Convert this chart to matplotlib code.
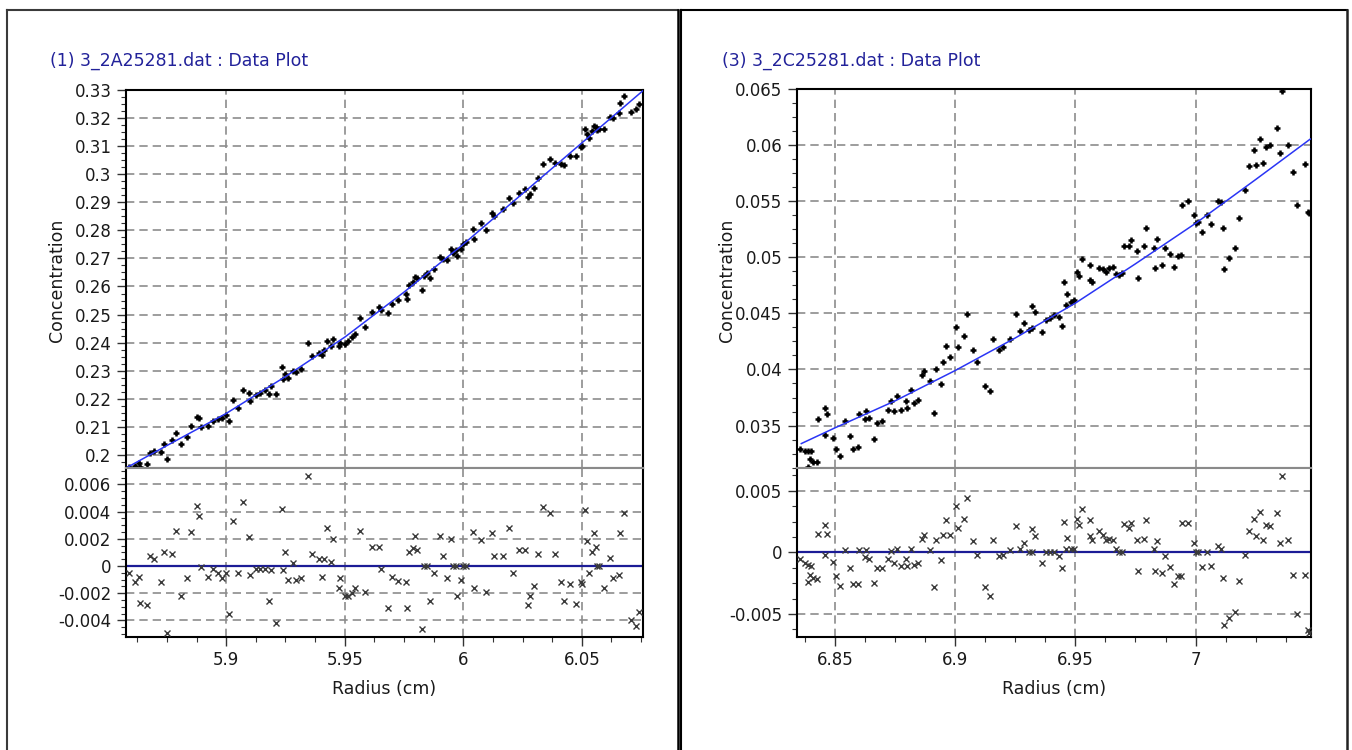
import matplotlib
matplotlib.use('Agg')
import matplotlib.pyplot as plt
from matplotlib.lines import Line2D
from matplotlib.ticker import FixedLocator, AutoMinorLocator, FuncFormatter

plt.rcParams['font.family'] = ['DejaVu Sans']

# ---------------- data ----------------
left_title = "(1) 3_2A25281.dat : Data Plot"
right_title = "(3) 3_2C25281.dat : Data Plot"
y_label = "Concentration"
x_label = "Radius (cm)"

left_radius = [5.8588, 5.8614, 5.8631, 5.8637, 5.8664, 5.8679, 5.8696, 5.8726, 5.8739, 5.8751,
    5.8771, 5.8789, 5.8809, 5.8834, 5.8850, 5.8875, 5.8884, 5.8892, 5.8922, 5.8945,
    5.8967, 5.8983, 5.9000, 5.9013, 5.9030, 5.9050, 5.9072, 5.9095, 5.9100, 5.9125,
    5.9141, 5.9163, 5.9180, 5.9188, 5.9211, 5.9236, 5.9241, 5.9249, 5.9259, 5.9283,
    5.9296, 5.9316, 5.9344, 5.9362, 5.9391, 5.9402, 5.9412, 5.9424, 5.9441, 5.9452,
    5.9474, 5.9479, 5.9499, 5.9515, 5.9532, 5.9544, 5.9565, 5.9585, 5.9615, 5.9644,
    5.9652, 5.9682, 5.9698, 5.9723, 5.9757, 5.9762, 5.9770, 5.9786, 5.9795, 5.9806,
    5.9826, 5.9834, 5.9848, 5.9860, 5.9876, 5.9901, 5.9915, 5.9931, 5.9948, 5.9956,
    5.9968, 5.9973, 5.9990, 6.0000, 6.0013, 6.0043, 6.0047, 6.0076, 6.0094, 6.0122,
    6.0131, 6.0167, 6.0192, 6.0209, 6.0235, 6.0259, 6.0272, 6.0280, 6.0300, 6.0317,
    6.0338, 6.0367, 6.0388, 6.0413, 6.0427, 6.0452, 6.0474, 6.0497, 6.0502, 6.0513,
    6.0521, 6.0530, 6.0543, 6.0551, 6.0558, 6.0563, 6.0571, 6.0593, 6.0621, 6.0633,
    6.0655, 6.0663, 6.0676, 6.0708, 6.0730, 6.0741]

left_conc = [0.1958, 0.1963, 0.1974, 0.1958, 0.1968, 0.2010, 0.2016, 0.2012, 0.2040, 0.1986,
    0.2054, 0.2079, 0.2040, 0.2065, 0.2106, 0.2136, 0.2133, 0.2099, 0.2105, 0.2122,
    0.2129, 0.2132, 0.2144, 0.2121, 0.2198, 0.2170, 0.2234, 0.2220, 0.2194, 0.2213,
    0.2221, 0.2232, 0.2217, 0.2245, 0.2218, 0.2315, 0.2272, 0.2289, 0.2275, 0.2300,
    0.2296, 0.2308, 0.2399, 0.2352, 0.2364, 0.2357, 0.2376, 0.2405, 0.2390, 0.2413,
    0.2389, 0.2399, 0.2397, 0.2408, 0.2420, 0.2432, 0.2488, 0.2455, 0.2508, 0.2526,
    0.2515, 0.2505, 0.2539, 0.2552, 0.2573, 0.2557, 0.2604, 0.2617, 0.2633, 0.2630,
    0.2586, 0.2637, 0.2647, 0.2629, 0.2661, 0.2705, 0.2699, 0.2694, 0.2735, 0.2720,
    0.2728, 0.2710, 0.2733, 0.2750, 0.2759, 0.2806, 0.2768, 0.2824, 0.2799, 0.2862,
    0.2851, 0.2877, 0.2916, 0.2895, 0.2931, 0.2948, 0.2917, 0.2930, 0.2951, 0.2987,
    0.3036, 0.3053, 0.3038, 0.3035, 0.3031, 0.3062, 0.3063, 0.3096, 0.3098, 0.3160,
    0.3143, 0.3127, 0.3151, 0.3171, 0.3166, 0.3155, 0.3161, 0.3161, 0.3203, 0.3197,
    0.3215, 0.3251, 0.3276, 0.3220, 0.3232, 0.3250]

left_resid = [-0.0005, -0.0012, -0.0008, -0.0027, -0.0029, 0.0007, 0.0005, -0.0012, 0.0010, -0.0049,
    0.0009, 0.0026, -0.0022, -0.0009, 0.0025, 0.0044, 0.0037, -0.0001, -0.0008, -0.0002,
    -0.0005, -0.0009, -0.0005, -0.0035, 0.0033, -0.0005, 0.0047, 0.0021, -0.0007, -0.0002,
    -0.0002, -0.0002, -0.0026, -0.0003, -0.0042, 0.0042, -0.0003, 0.0010, -0.0010, 0.0002,
    -0.0010, -0.0009, 0.0066, 0.0009, 0.0005, -0.0008, 0.0005, 0.0028, 0.0003, 0.0020,
    -0.0016, -0.0009, -0.0022, -0.0022, -0.0020, -0.0016, 0.0026, -0.0019, 0.0014, 0.0014,
    -0.0002, -0.0031, -0.0008, -0.0011, -0.0012, -0.0031, 0.0010, 0.0013, 0.0022, 0.0012,
    -0.0046, 0.0000, 0.0000, -0.0026, -0.0005, 0.0022, 0.0007, -0.0009, 0.0020, 0.0000,
    0.0000, -0.0022, -0.0010, 0.0000, 0.0000, 0.0025, -0.0016, 0.0019, -0.0019, 0.0024,
    0.0007, 0.0007, 0.0028, -0.0005, 0.0012, 0.0012, -0.0029, -0.0022, -0.0015, 0.0009,
    0.0043, 0.0039, 0.0009, -0.0012, -0.0026, -0.0013, -0.0028, -0.0012, -0.0013, 0.0041,
    0.0018, -0.0005, 0.0010, 0.0024, 0.0014, 0.0000, 0.0000, -0.0016, 0.0006, -0.0009,
    -0.0007, 0.0024, 0.0039, -0.0040, -0.0044, -0.0034]

left_fit_radius = [5.8575, 5.875, 5.9, 5.925, 5.95, 5.975, 6.0, 6.025, 6.05, 6.0757]
left_fit_conc = [0.1954, 0.2035, 0.2149, 0.2280, 0.2420, 0.2580, 0.2750, 0.2930, 0.3110, 0.3295]

right_radius = [6.8355, 6.8376, 6.8389, 6.8401, 6.8389, 6.8398, 6.8410, 6.8424, 6.8431, 6.8459,
    6.8459, 6.8467, 6.8493, 6.8505, 6.8522, 6.8540, 6.8562, 6.8574, 6.8597, 6.8600,
    6.8623, 6.8631, 6.8643, 6.8661, 6.8673, 6.8695, 6.8721, 6.8735, 6.8747, 6.8759,
    6.8773, 6.8794, 6.8799, 6.8816, 6.8828, 6.8846, 6.8863, 6.8872, 6.8894, 6.8911,
    6.8920, 6.8942, 6.8949, 6.8963, 6.8980, 6.9005, 6.9010, 6.9036, 6.9050, 6.9074,
    6.9089, 6.9122, 6.9143, 6.9158, 6.9183, 6.9200, 6.9226, 6.9252, 6.9271, 6.9288,
    6.9309, 6.9321, 6.9330, 6.9318, 6.9361, 6.9378, 6.9395, 6.9409, 6.9430, 6.9444,
    6.9452, 6.9464, 6.9461, 6.9482, 6.9496, 6.9508, 6.9516, 6.9528, 6.9559, 6.9562,
    6.9568, 6.9599, 6.9616, 6.9628, 6.9641, 6.9658, 6.9667, 6.9680, 6.9693, 6.9701,
    6.9724, 6.9732, 6.9755, 6.9762, 6.9784, 6.9793, 6.9827, 6.9831, 6.9841, 6.9862,
    6.9871, 6.9893, 6.9909, 6.9928, 6.9940, 6.9945, 6.9969, 6.9995, 7.0000, 7.0009,
    7.0026, 7.0048, 7.0066, 7.0095, 7.0104, 7.0112, 7.0118, 7.0138, 7.0164, 7.0181,
    7.0204, 7.0221, 7.0242, 7.0251, 7.0268, 7.0280, 7.0293, 7.0311, 7.0337, 7.0351,
    7.0360, 7.0384, 7.0406, 7.0423, 7.0455, 7.0466, 7.0473]

right_conc = [0.0329, 0.0327, 0.0327, 0.0327, 0.0313, 0.0320, 0.0318, 0.0318, 0.0356, 0.0366,
    0.0342, 0.0360, 0.0339, 0.0329, 0.0323, 0.0354, 0.0341, 0.0329, 0.0331, 0.0360,
    0.0356, 0.0363, 0.0357, 0.0338, 0.0352, 0.0354, 0.0364, 0.0372, 0.0363, 0.0376,
    0.0364, 0.0372, 0.0366, 0.0382, 0.0370, 0.0373, 0.0395, 0.0399, 0.0390, 0.0361,
    0.0400, 0.0387, 0.0407, 0.0421, 0.0411, 0.0438, 0.0420, 0.0430, 0.0449, 0.0417,
    0.0407, 0.0385, 0.0381, 0.0427, 0.0417, 0.0420, 0.0427, 0.0449, 0.0434, 0.0441,
    0.0435, 0.0456, 0.0451, 0.0437, 0.0433, 0.0444, 0.0446, 0.0448, 0.0447, 0.0439,
    0.0478, 0.0467, 0.0457, 0.0460, 0.0462, 0.0487, 0.0483, 0.0498, 0.0493, 0.0480,
    0.0478, 0.0490, 0.0489, 0.0487, 0.0490, 0.0491, 0.0485, 0.0484, 0.0486, 0.0510,
    0.0510, 0.0515, 0.0505, 0.0481, 0.0510, 0.0526, 0.0508, 0.0490, 0.0516, 0.0493,
    0.0508, 0.0503, 0.0491, 0.0501, 0.0502, 0.0546, 0.0550, 0.0537, 0.0530, 0.0531,
    0.0522, 0.0537, 0.0529, 0.0550, 0.0549, 0.0526, 0.0489, 0.0499, 0.0508, 0.0535,
    0.0560, 0.0581, 0.0595, 0.0582, 0.0605, 0.0584, 0.0598, 0.0600, 0.0615, 0.0593,
    0.0648, 0.0600, 0.0576, 0.0546, 0.0583, 0.0540, 0.0539]

right_resid = [-0.0005, -0.0009, -0.0010, -0.0011, -0.0024, -0.0018, -0.0021, -0.0022, 0.0015, 0.0022,
    -0.0002, 0.0015, -0.0008, -0.0019, -0.0027, 0.0002, -0.0013, -0.0026, -0.0026, 0.0002,
    -0.0004, 0.0002, -0.0005, -0.0025, -0.0013, -0.0013, -0.0005, 0.0001, -0.0009, 0.0003,
    -0.0011, -0.0005, -0.0011, 0.0003, -0.0010, -0.0009, 0.0011, 0.0014, 0.0002, -0.0028,
    0.0010, -0.0006, 0.0014, 0.0026, 0.0014, 0.0038, 0.0020, 0.0027, 0.0044, 0.0009,
    -0.0002, -0.0028, -0.0035, 0.0010, -0.0003, -0.0002, 0.0002, 0.0021, 0.0003, 0.0008,
    0.0000, 0.0019, 0.0013, 0.0000, -0.0009, 0.0000, 0.0000, 0.0000, -0.0003, -0.0013,
    0.0025, 0.0012, 0.0003, 0.0003, 0.0003, 0.0027, 0.0022, 0.0035, 0.0026, 0.0013,
    0.0010, 0.0017, 0.0014, 0.0010, 0.0011, 0.0010, 0.0003, 0.0000, 0.0000, 0.0023,
    0.0020, 0.0024, 0.0010, -0.0015, 0.0011, 0.0026, 0.0003, -0.0015, 0.0009, -0.0017,
    -0.0003, -0.0012, -0.0026, -0.0019, -0.0019, 0.0024, 0.0024, 0.0008, 0.0000, 0.0000,
    -0.0012, 0.0000, -0.0011, 0.0005, 0.0003, -0.0021, -0.0059, -0.0053, -0.0048, -0.0023,
    -0.0002, 0.0017, 0.0027, 0.0013, 0.0033, 0.0010, 0.0022, 0.0021, 0.0032, 0.0008,
    0.0062, 0.0010, -0.0018, -0.0050, -0.0018, -0.0063, -0.0065]

right_fit_radius = [6.836, 6.85, 6.875, 6.9, 6.925, 6.95, 6.975, 7.0, 7.025, 7.0477]
right_fit_conc = [0.0334, 0.0348, 0.0372, 0.0399, 0.0428, 0.0459, 0.0494, 0.0530, 0.0569, 0.0605]

left_x_ticks = [5.9, 5.95, 6.0, 6.05]
left_conc_ticks = [0.20, 0.21, 0.22, 0.23, 0.24, 0.25, 0.26, 0.27, 0.28, 0.29, 0.30, 0.31, 0.32, 0.33]
left_resid_ticks = [-0.004, -0.002, 0.0, 0.002, 0.004, 0.006]
right_x_ticks = [6.85, 6.9, 6.95, 7.0]
right_conc_ticks = [0.035, 0.04, 0.045, 0.05, 0.055, 0.06, 0.065]
right_resid_ticks = [-0.005, 0.0, 0.005]

# ---------------- layout ----------------
W, H = 1352, 750
fig = plt.figure(figsize=(W / 100, H / 100), dpi=100)
fig.patch.set_facecolor('white')


def px_axes(x0, x1, ytop, ybot):
    return fig.add_axes([x0 / W, 1 - ybot / H, (x1 - x0) / W, (ybot - ytop) / H])


fmt = FuncFormatter(lambda v, p: '%g' % round(v, 6))
GRID = '#8c8c8c'
SEP = '#8a8a8a'
TXT = '#1a1a1a'


def style(ax, top, xticks, yticks):
    for s in ax.spines.values():
        s.set_color('black')
        s.set_linewidth(1.5)
    if top:
        ax.spines['bottom'].set_color(SEP)
    else:
        ax.spines['top'].set_color(SEP)
    ax.xaxis.set_major_locator(FixedLocator(xticks))
    ax.yaxis.set_major_locator(FixedLocator(yticks))
    ax.xaxis.set_minor_locator(AutoMinorLocator(4))
    ax.yaxis.set_minor_locator(AutoMinorLocator(4))
    ax.xaxis.set_major_formatter(fmt)
    ax.yaxis.set_major_formatter(fmt)
    ax.grid(True, which='major', color=GRID, linestyle=(0, (5, 3)), linewidth=1.2)
    ax.set_axisbelow(True)
    ax.tick_params(which='major', direction='out', length=6.5, width=1.0, color='#333333',
                   labelsize=12, labelcolor=TXT, pad=3.5)
    ax.tick_params(which='minor', direction='out', length=3.5, width=0.8, color='#333333')
    if top:
        ax.tick_params(axis='x', which='both', bottom=False, labelbottom=False)


panels = [
    dict(x0=125.5, x1=642.7, ttop=89.5, xlim=(5.8575, 6.0757), ylim=(0.1954, 0.33), rlim=(-0.0052, 0.00718),
         r=left_radius, c=left_conc, res=left_resid, fr=left_fit_radius, fc=left_fit_conc,
         xt=left_x_ticks, ct=left_conc_ticks, rt=left_resid_ticks, title=left_title, tx=50, lx=57),
    dict(x0=796.5, x1=1311, ttop=88.5, xlim=(6.834, 7.048), ylim=(0.0312, 0.065), rlim=(-0.00684, 0.00682),
         r=right_radius, c=right_conc, res=right_resid, fr=right_fit_radius, fc=right_fit_conc,
         xt=right_x_ticks, ct=right_conc_ticks, rt=right_resid_ticks, title=right_title, tx=722, lx=727),
]

SEP_Y = 468.3
BOT_Y = 636.7

for p in panels:
    ax = px_axes(p['x0'], p['x1'], p['ttop'], SEP_Y)
    axr = px_axes(p['x0'], p['x1'], SEP_Y, BOT_Y)

    ax.plot(p['r'], p['c'], linestyle='none', marker='+', markersize=5, markeredgewidth=1.8,
            color='black', zorder=3)
    ax.plot(p['fr'], p['fc'], color='#2a35f5', linewidth=1.1, zorder=4)
    ax.set_xlim(*p['xlim'])
    ax.set_ylim(*p['ylim'])
    style(ax, True, p['xt'], p['ct'])

    axr.axhline(0, color='#1c1c96', linewidth=1.6, zorder=2)
    axr.plot(p['r'], p['res'], linestyle='none', marker='x', markersize=4.2, markeredgewidth=1.0,
             color='#3a3a3a', zorder=3)
    axr.set_xlim(*p['xlim'])
    axr.set_ylim(*p['rlim'])
    style(axr, False, p['xt'], p['rt'])
    axr.set_xlabel(x_label, fontsize=12.5, color=TXT, labelpad=8)

    fig.text(p['tx'] / W, 1 - 61 / H, p['title'], color='#22229a', fontsize=12.5,
             ha='left', va='center')
    fig.text(p['lx'] / W, 1 - 280 / H, y_label, color=TXT, fontsize=12.5, rotation=90,
             ha='center', va='center')

# panel frames (figure-level)
def frame(xl, xr, col_l, col_r):
    yt = 1 - 10 / H
    fig.add_artist(Line2D([xl / W, xl / W], [-0.05, yt], color=col_l, linewidth=1.5, transform=fig.transFigure))
    fig.add_artist(Line2D([xl / W, xr / W], [yt, yt], color=col_l, linewidth=1.5, transform=fig.transFigure))
    fig.add_artist(Line2D([xr / W, xr / W], [yt, -0.05], color=col_r, linewidth=1.8, transform=fig.transFigure))

frame(7, 677.5, '#3a3a3a', 'black')
frame(681, 1347, 'black', '#222222')

fig.savefig('out.png', dpi=100, facecolor='white')
